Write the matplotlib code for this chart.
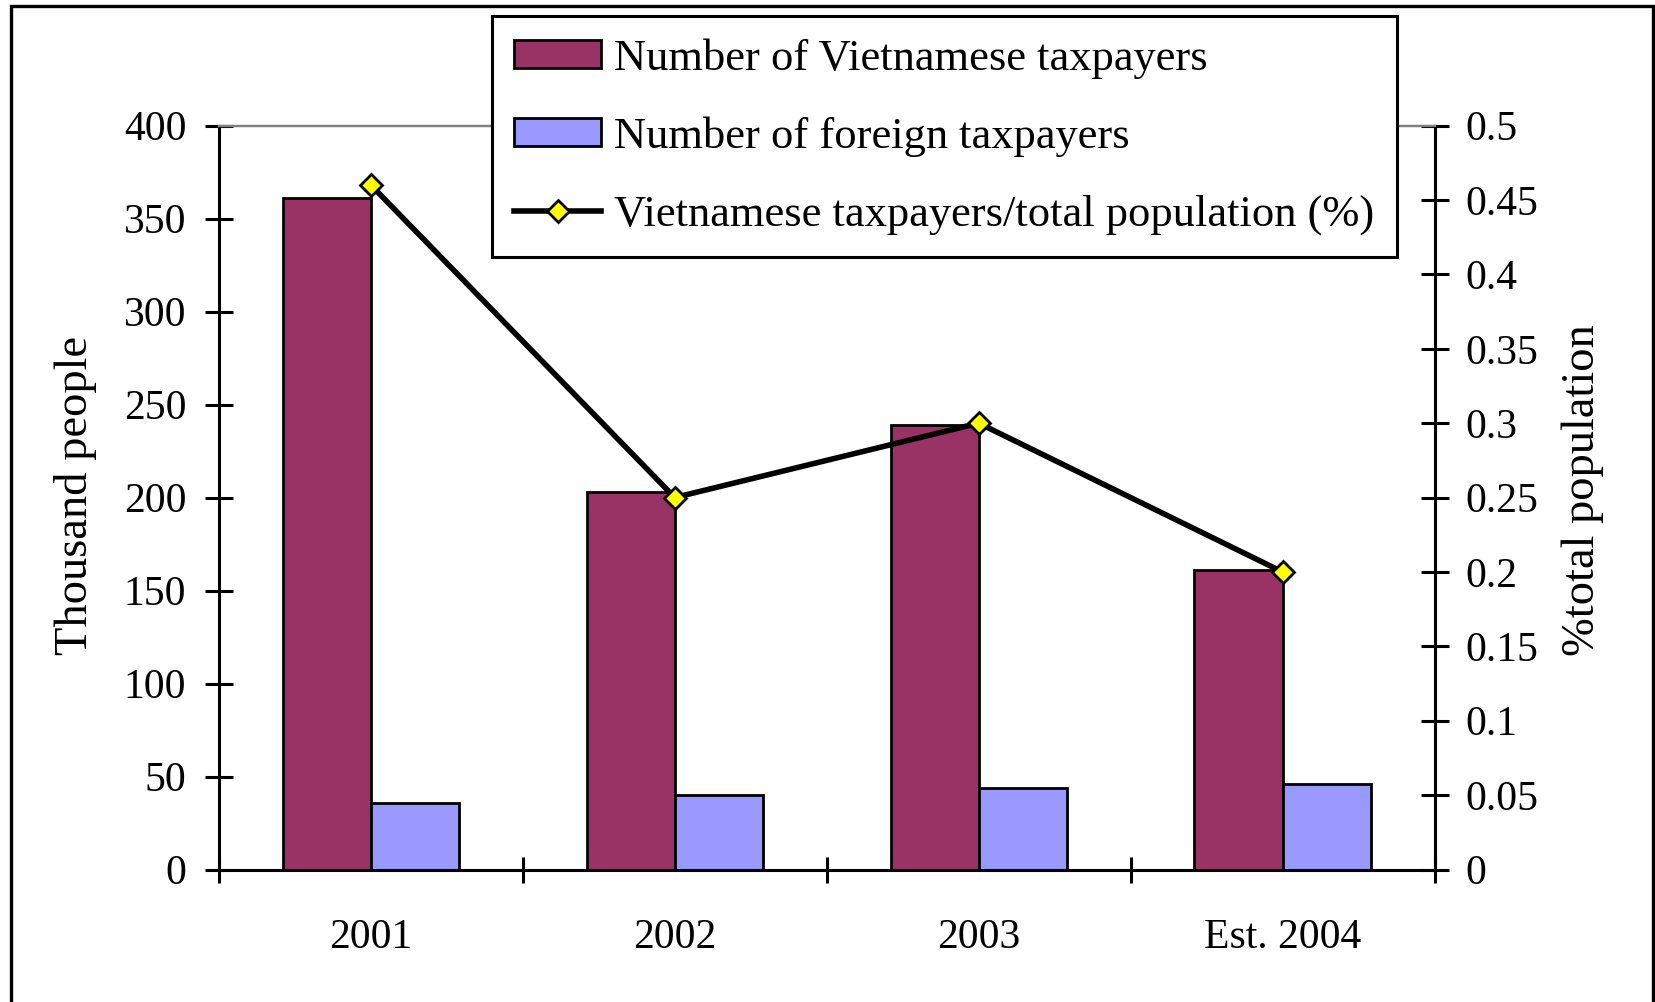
import matplotlib as mpl
mpl.use('Agg')
import matplotlib.pyplot as plt
from matplotlib.patches import Rectangle

plt.rcParams['font.family'] = ['Liberation Serif', 'DejaVu Serif']

years = ["2001", "2002", "2003", "Est. 2004"]
vietnamese = [361, 203, 239, 161]
foreign = [36, 40, 44, 46]
share_pct = [0.46, 0.25, 0.30, 0.20]

left_ticks = [0, 50, 100, 150, 200, 250, 300, 350, 400]
right_ticks = [0, 0.05, 0.1, 0.15, 0.2, 0.25, 0.3, 0.35, 0.4, 0.45, 0.5]
right_labels = ["0", "0.05", "0.1", "0.15", "0.2", "0.25", "0.3", "0.35", "0.4", "0.45", "0.5"]

maroon = "#993366"
lilac = "#9999FF"

W, H = 1655, 1002
fig = plt.figure(figsize=(W / 100, H / 100), dpi=100)
ax = fig.add_axes([219 / W, 1 - 869.5 / H, (1434.5 - 219) / W, (869.5 - 125.6) / H])
ax2 = ax.twinx()

bw = 0.29
x = list(range(len(years)))
ax.bar([i - bw / 2 for i in x], vietnamese, width=bw, color=maroon,
       edgecolor="black", linewidth=2, label="Number of Vietnamese taxpayers", zorder=2)
ax.bar([i + bw / 2 for i in x], foreign, width=bw, color=lilac,
       edgecolor="black", linewidth=2, label="Number of foreign taxpayers", zorder=2)
ax2.plot(x, share_pct, color="black", lw=4, marker="D", markersize=11,
         markerfacecolor="#FFFF00", markeredgecolor="black", markeredgewidth=2,
         label="Vietnamese taxpayers/total population (%)", zorder=3)

ax.set_xlim(-0.5, len(years) - 0.5)
ax.set_ylim(0, 400)
ax2.set_ylim(0, 0.5)

# category boundaries get the tick marks, labels sit on the centres
ax.set_xticks([i - 0.5 for i in range(len(years) + 1)])
ax.set_xticklabels([])
ax.set_xticks(x, minor=True)
ax.set_xticklabels(years, minor=True)
ax.tick_params(axis="x", which="major", direction="inout", length=19, width=2.2)
ax.tick_params(axis="x", which="minor", length=0, pad=35.5, labelsize=30)

ax.set_yticks(left_ticks)
ax.tick_params(axis="y", direction="inout", length=20, width=2.2, pad=13.5, labelsize=30)
ax2.set_yticks(right_ticks)
ax2.set_yticklabels(right_labels)
ax2.tick_params(axis="y", direction="inout", length=20, width=2.2, pad=12, labelsize=30)

for a in (ax, ax2):
    for s in a.spines.values():
        s.set_linewidth(2.2)
    a.spines["top"].set_color("#808080")
    a.spines["top"].set_linewidth(1.6)
ax2.spines["left"].set_visible(False)
ax2.spines["bottom"].set_visible(False)

fig.text(76 / W, 1 - 495 / H, "Thousand people", rotation=90, ha="center", va="center", fontsize=33.5)
fig.text(1583 / W, 1 - 490 / H, "%total population", rotation=90, ha="center", va="center", fontsize=33.5)

h1, l1 = ax.get_legend_handles_labels()
h2, l2 = ax2.get_legend_handles_labels()
leg = fig.legend(h1 + h2, l1 + l2, loc="upper left", bbox_to_anchor=(492 / W, 1 - 16 / H),
                 bbox_transform=fig.transFigure, fontsize=32, frameon=True, fancybox=False,
                 edgecolor="black", framealpha=1, borderaxespad=0, handlelength=1.95,
                 handleheight=0.58, handletextpad=0.3, labelspacing=0.85, borderpad=0.5)
leg.get_frame().set_linewidth(2.2)

# outer chart border, bottom edge runs off the image
fig.add_artist(Rectangle((11 / W, -0.05), (1653 - 11) / W, 1 - 6 / H + 0.05, fill=False,
                         edgecolor="black", linewidth=2.4, transform=fig.transFigure))

fig.savefig("out.png", dpi=100)
